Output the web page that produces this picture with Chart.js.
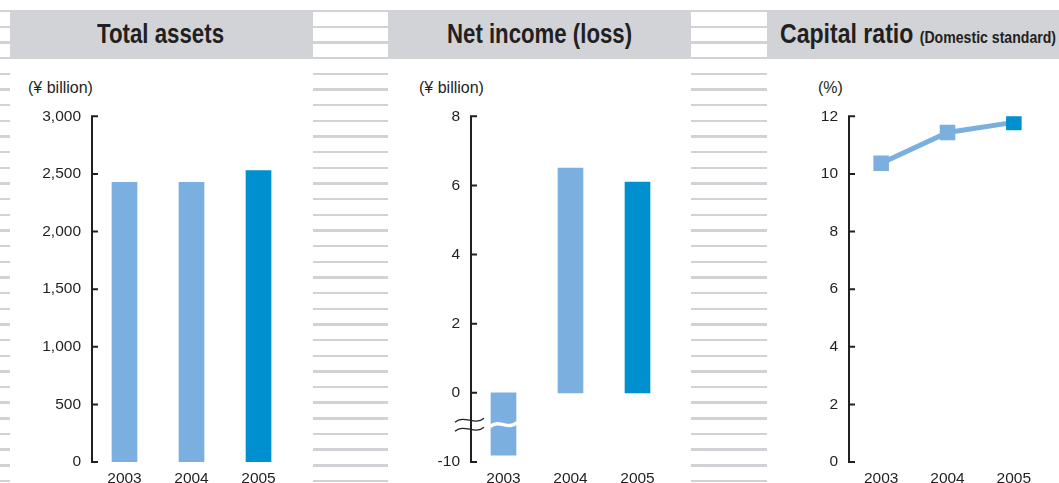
<!DOCTYPE html>
<html>
<head>
<meta charset="utf-8">
<script src="https://cdn.jsdelivr.net/npm/chart.js@4.4.0/dist/chart.umd.min.js"></script>
<style>
  html, body { margin: 0; padding: 0; background: #fff; }
  #wrap { position: relative; width: 1059px; height: 483px; overflow: hidden; font-family: "Liberation Sans", Arial, sans-serif; color: #231f20; }
  .stripes { position: absolute; top: 10px; height: 473px;
    background: repeating-linear-gradient(to bottom, #d0d2d5 0px, #d0d2d5 2.4px, #fff 2.4px, #fff 15.66px); }
  .band { position: absolute; top: 10px; height: 49px; background: #d1d3d6; }
  .title { position: absolute; top: 21px; font-family: "Liberation Sans", Arial, sans-serif;
    font-weight: bold; font-size: 27px; line-height: 27px; white-space: nowrap; transform-origin: 0 0; }
  .title small { font-size: 16.5px; }
  .unit { position: absolute; top: 80px; font-size: 16px; line-height: 16px; white-space: nowrap; }
  canvas { position: absolute; top: 97px; }
</style>
</head>
<body>
<div id="wrap">
  <div class="stripes" style="left:0;width:10px"></div>
  <div class="stripes" style="left:313px;width:75px"></div>
  <div class="stripes" style="left:691px;width:76px"></div>
  <div class="band" style="left:10px;width:303px"></div>
  <div class="band" style="left:388px;width:303px"></div>
  <div class="band" style="left:767px;width:292px"></div>
  <div class="title" id="t1">Total assets</div>
  <div class="title" id="t2">Net income (loss)</div>
  <div class="title" id="t3">Capital ratio <small>(Domestic standard)</small></div>
  <div class="unit" style="left:28px">(¥ billion)</div>
  <div class="unit" style="left:419px">(¥ billion)</div>
  <div class="unit" style="left:818px">(%)</div>
  <canvas id="c1" width="280" height="386" style="left:21px"></canvas>
  <canvas id="c2" width="280" height="386" style="left:400px"></canvas>
  <canvas id="c3" width="280" height="386" style="left:778px"></canvas>
</div>
<script>
// data
const years = ['2003', '2004', '2005'];
const totalAssets = [2427, 2427, 2530];      // ¥ billion
const netIncome = [-9.0, 6.5, 6.1];          // ¥ billion, 2003 drawn below an axis break
const capitalRatio = [10.37, 11.44, 11.79];  // %

const LIGHT = '#7aafdf';
const DARK = '#0090d0';
const INK = '#231f20';
const barColors = [LIGHT, LIGHT, DARK];
const tickFont = { family: '"Liberation Sans", Arial, sans-serif', size: 15.5 };

// squeeze the header titles to look like the condensed face of the original
function fitTitle(id, left, width) {
  const el = document.getElementById(id);
  el.style.left = left + 'px';
  el.style.transform = 'scaleX(' + (width / el.offsetWidth) + ')';
}
fitTitle('t1', 97, 127);
fitTitle('t2', 447, 185);
fitTitle('t3', 780, 276);

// below zero the net income axis is squeezed: -10 sits where -2 would
const squeeze = v => v < 0 ? v / 5 : v;
const unsqueeze = v => v < 0 ? v * 5 : v;

// y axis line with short ticks pointing into the plot
const axisPlugin = {
  id: 'axisLine',
  afterDraw(chart) {
    const ctx = chart.ctx, y = chart.scales.y, a = chart.chartArea;
    const x = a.left + 1;
    ctx.save();
    ctx.strokeStyle = INK;
    ctx.lineWidth = 2;
    ctx.beginPath();
    ctx.moveTo(x, a.top - 1);
    ctx.lineTo(x, a.bottom + 1);
    y.ticks.forEach(t => {
      const py = y.getPixelForValue(t.value);
      ctx.moveTo(x - 1, py);
      ctx.lineTo(x + 6, py);
    });
    ctx.stroke();
    ctx.restore();
  }
};

// wavy break marks on the net income axis and across the 2003 bar
const breakPlugin = {
  id: 'axisBreak',
  afterDraw(chart) {
    const ctx = chart.ctx, y = chart.scales.y, a = chart.chartArea;
    const by = y.getPixelForValue(-0.92);
    const bar = chart.getDatasetMeta(0).data[0];
    ctx.save();
    const bl = bar.x - bar.width / 2 - 1, br = bar.x + bar.width / 2 + 1, w = br - bl;
    ctx.strokeStyle = '#fff';
    ctx.lineWidth = 3.5;
    ctx.beginPath();
    ctx.moveTo(bl, by + 2);
    ctx.bezierCurveTo(bl + w / 3, by - 6, bl + 2 * w / 3, by + 6, br, by - 2);
    ctx.stroke();
    ctx.strokeStyle = INK;
    ctx.lineWidth = 1.3;
    const x0 = a.left - 15, ww = 29;
    [-4.5, 4.5].forEach(d => {
      ctx.beginPath();
      ctx.moveTo(x0, by + d + 2);
      ctx.bezierCurveTo(x0 + ww / 3, by + d - 6, x0 + 2 * ww / 3, by + d + 6, x0 + ww, by + d - 2);
      ctx.stroke();
    });
    ctx.restore();
  }
};

function scales(min, max, step, fmt) {
  return {
    x: {
      offset: true,
      grid: { display: false, drawTicks: false },
      border: { display: false },
      ticks: { color: INK, font: tickFont, padding: 7 },
      afterFit: s => { s.height = 21; }
    },
    y: {
      min: min, max: max,
      grid: { display: false, drawTicks: false },
      border: { display: false },
      ticks: { stepSize: step, color: INK, font: tickFont, padding: 10, callback: fmt },
      afterFit: s => { s.width = 70; }
    }
  };
}

const common = {
  responsive: false,
  animation: false,
  layout: { padding: { top: 0, right: 9, bottom: 0, left: 0 } },
  plugins: { legend: { display: false }, tooltip: { enabled: false } }
};

new Chart(document.getElementById('c1'), {
  type: 'bar',
  data: { labels: years, datasets: [{ data: totalAssets, backgroundColor: barColors, barThickness: 25 }] },
  options: Object.assign({}, common, {
    scales: scales(0, 3000, 500, v => v.toLocaleString('en-US'))
  }),
  plugins: [axisPlugin]
});

new Chart(document.getElementById('c2'), {
  type: 'bar',
  data: { labels: years, datasets: [{ data: netIncome.map(squeeze), backgroundColor: barColors, barThickness: 25 }] },
  options: Object.assign({}, common, {
    scales: scales(-2, 8, 2, v => String(unsqueeze(v)))
  }),
  plugins: [axisPlugin, breakPlugin]
});

new Chart(document.getElementById('c3'), {
  type: 'line',
  data: { labels: years, datasets: [{
    data: capitalRatio,
    borderColor: LIGHT,
    borderWidth: 5,
    pointStyle: 'rect',
    pointRadius: 11,
    pointBorderWidth: 0,
    pointBackgroundColor: barColors,
    tension: 0
  }] },
  options: Object.assign({}, common, {
    scales: scales(0, 12, 2, v => String(v))
  }),
  plugins: [axisPlugin]
});
</script>
</body>
</html>
